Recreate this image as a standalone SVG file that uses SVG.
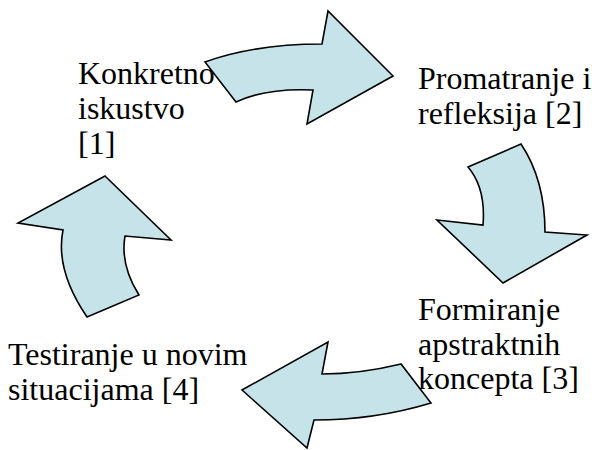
<svg xmlns="http://www.w3.org/2000/svg" width="592" height="450" viewBox="0 0 592 450">
<style>
.arrow{fill:#C5E3E8;stroke:#000;stroke-width:1.6;stroke-linejoin:miter}
.t{font-family:'Liberation Serif','Times New Roman',serif;font-size:32px;fill:#000}
</style>
<rect width="592" height="450" fill="#fff"/>
<g id="connectors">
<path id="a1" class="arrow" d="M205,62 Q255,44 322,44 L328,11 L393,76 L307,124 L313,90 Q265,88 236,102 Z"/>
<path id="a2" class="arrow" d="M468,167 L521,144 Q545,180 545,232 L587,235 L503,283 L437,220 L483,225 Q486,188 468,167 Z"/>
<path id="a3" class="arrow" d="M401,364 Q360,374 322,374 L328,342 L242,390 L307,448 L314,420 Q375,420 431,403 Z"/>
<path id="a4" class="arrow" d="M105,176 L171,240 L125,236 Q120,265 139,295 L87,317 Q55,270 63,230 L18,223 Z"/>
</g>
<g id="n1"><text class="t" x="78" y="84"><tspan x="78">Konkretno</tspan><tspan x="78" dy="35">iskustvo</tspan><tspan x="78" dy="35">[1]</tspan></text></g>
<g id="n2"><text class="t" x="418" y="89"><tspan x="418">Promatranje i</tspan><tspan x="418" dy="35">refleksija [2]</tspan></text></g>
<g id="n3"><text class="t" x="418" y="320"><tspan x="418">Formiranje</tspan><tspan x="418" dy="35">apstraktnih</tspan><tspan x="418" dy="34">koncepta [3]</tspan></text></g>
<g id="n4"><text class="t" x="8" y="365"><tspan x="8">Testiranje u novim</tspan><tspan x="8" dy="35">situacijama [4]</tspan></text></g>
</svg>
